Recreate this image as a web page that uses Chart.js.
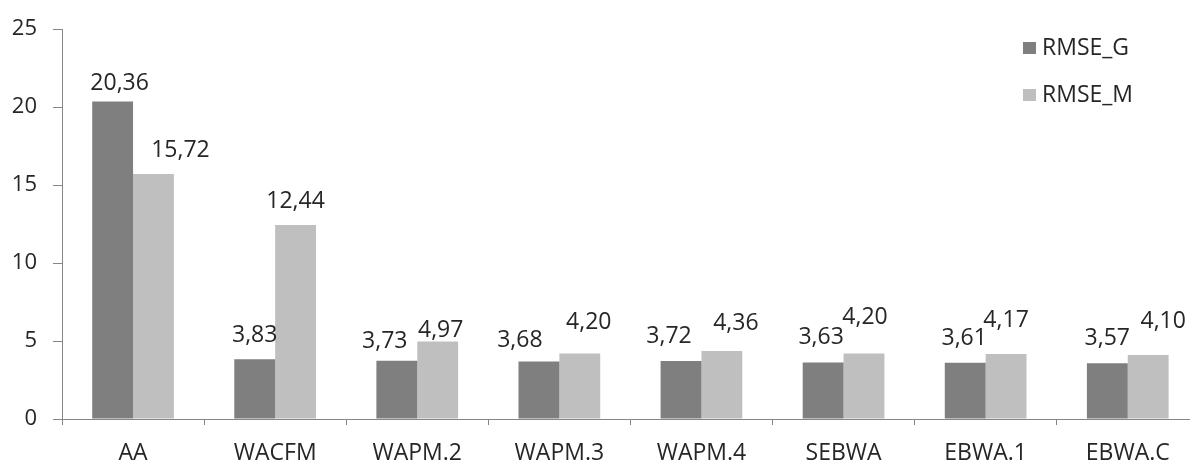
<!DOCTYPE html>
<html>
<head>
<meta charset="utf-8">
<script src="https://cdn.jsdelivr.net/npm/chart.js@4/dist/chart.umd.min.js"></script>
<style>
  html, body { margin: 0; padding: 0; background: #fff; overflow: hidden; }
  #wrap { width: 1200px; height: 461px; position: relative; }
</style>
</head>
<body>
<div id="wrap"><canvas id="c" width="1200" height="461"></canvas></div>
<script>
// Methods compared
const categories = ['AA', 'WACFM', 'WAPM.2', 'WAPM.3', 'WAPM.4', 'SEBWA', 'EBWA.1', 'EBWA.C'];
// Error values per method
const rmseG = [20.36, 3.83, 3.73, 3.68, 3.72, 3.63, 3.61, 3.57];
const rmseM = [15.72, 12.44, 4.97, 4.20, 4.36, 4.20, 4.17, 4.10];
const seriesNames = ['RMSE_G', 'RMSE_M'];
const yTicks = [0, 5, 10, 15, 20, 25];

const FONT = "'Open Sans', 'DejaVu Sans', sans-serif";
const TEXT = '#262626';
const AXIS = '#868686';
const COLORS = ['#7f7f7f', '#bfbfbf'];

// Per-label placement tweaks: [dx, gap above bar top] for each series
const labelShift = [
  [[7, 12], [0, 17.6], [-12, 12.7], [-19, 14.7], [-12, 17.6], [-2, 18], [-1, 18], [0, 18.7]],
  [[27, 17], [0, 17], [3, 5], [9, 25], [14, 20.7], [1, 29.6], [0, 27], [15, 27]]
];

const fmt = v => v.toFixed(2).replace('.', ',');

// Value labels above each bar
const valueLabels = {
  id: 'valueLabels',
  afterDatasetsDraw(chart) {
    const ctx = chart.ctx;
    ctx.save();
    ctx.font = '23px ' + FONT;
    ctx.fillStyle = TEXT;
    ctx.textAlign = 'center';
    ctx.textBaseline = 'alphabetic';
    chart.data.datasets.forEach((ds, di) => {
      const meta = chart.getDatasetMeta(di);
      meta.data.forEach((bar, i) => {
        const [dx, gap] = labelShift[di][i];
        ctx.fillText(fmt(ds.data[i]), bar.x + dx, bar.y - gap);
      });
    });
    ctx.restore();
  }
};

// Legend drawn inside the plot, top right
const cornerLegend = {
  id: 'cornerLegend',
  afterDraw(chart) {
    const ctx = chart.ctx;
    ctx.save();
    ctx.font = '23px ' + FONT;
    ctx.textAlign = 'left';
    ctx.textBaseline = 'middle';
    chart.data.datasets.forEach((ds, di) => {
      const cy = 48 + di * 47;
      ctx.fillStyle = ds.backgroundColor;
      ctx.fillRect(1023, cy - 6, 13, 12);
      ctx.fillStyle = TEXT;
      ctx.fillText(ds.label, 1042, cy);
    });
    ctx.restore();
  }
};

new Chart(document.getElementById('c'), {
  type: 'bar',
  data: {
    labels: categories,
    datasets: [
      { label: seriesNames[0], data: rmseG, backgroundColor: COLORS[0] },
      { label: seriesNames[1], data: rmseM, backgroundColor: COLORS[1] }
    ]
  },
  options: {
    responsive: false,
    animation: false,
    devicePixelRatio: 1,
    layout: { padding: { top: 24, right: 1.2, left: 0, bottom: 0 } },
    datasets: { bar: { categoryPercentage: 0.575, barPercentage: 1.0 } },
    plugins: {
      legend: { display: false },
      tooltip: { enabled: false }
    },
    scales: {
      x: {
        grid: { drawOnChartArea: false, color: AXIS, tickLength: 6, offset: true },
        border: { color: AXIS, width: 1 },
        ticks: { color: TEXT, font: { family: FONT, size: 23 }, padding: 15, maxRotation: 0 },
        afterFit(axis) { axis.height = 42; }
      },
      y: {
        min: 0,
        max: 25,
        afterBuildTicks(axis) { axis.ticks = yTicks.map(v => ({ value: v })); },
        grid: { drawOnChartArea: false, color: AXIS, tickLength: 9 },
        border: { color: AXIS, width: 1 },
        ticks: { color: TEXT, font: { family: FONT, size: 22 }, padding: 16 },
        afterFit(axis) { axis.width = 62; }
      }
    }
  },
  plugins: [valueLabels, cornerLegend]
});
</script>
</body>
</html>
